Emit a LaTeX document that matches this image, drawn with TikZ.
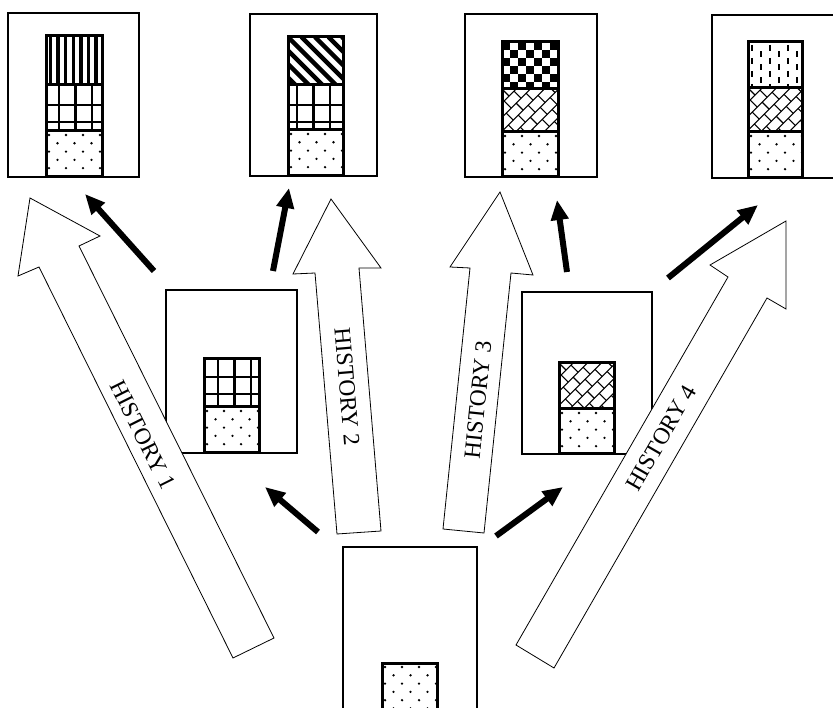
\documentclass[tikz,border=0pt]{standalone}
\usepackage{fontspec}
\setmainfont{Liberation Serif}
\usetikzlibrary{arrows.meta}

% Fills for the layer cells; arguments are the corners x1,y1,x2,y2.
\newcommand\lyrDots[4]{%
  \begin{scope}
    \clip (#1,#2) rectangle (#3,#4);
    \foreach \r in {0,...,7}{\foreach \c in {0,...,4}{%
      \fill ({#1+3+17*\c+8.5*mod(\r,2)},{#2+4+8.3*\r}) circle[radius=1.3pt];}}
  \end{scope}}
% grid, with offsets of the first vertical and horizontal line
\newcommand\lyrGrid[6]{%
  \begin{scope}
    \clip (#1,#2) rectangle (#3,#4);
    \foreach \i in {0,...,3}{%
      \draw[line width=2.3pt] ({#1+#5+16.5*\i},#2) -- ({#1+#5+16.5*\i},#4);
      \draw[line width=2.3pt] (#1,{#2+#6+17*\i}) -- (#3,{#2+#6+17*\i});}
  \end{scope}}
\newcommand\lyrBars[4]{%
  \begin{scope}
    \clip (#1,#2) rectangle (#3,#4);
    \foreach \i in {0,...,7}
      \draw[line width=3.5pt] ({#1+4.5+7.6*\i},#2) -- ({#1+4.5+7.6*\i},#4);
  \end{scope}}
\newcommand\lyrSlant[4]{%
  \begin{scope}
    \clip (#1,#2) rectangle (#3,#4);
    \foreach \i in {-5,...,5}
      \draw[line width=4.5pt] ({#1+13.5*\i},#2) -- ({#1+13.5*\i+60},{#2+60});
  \end{scope}}
\newcommand\lyrChecks[4]{%
  \begin{scope}
    \clip (#1,#2) rectangle (#3,#4);
    \foreach \r in {0,...,6}{\foreach \c in {0,...,7}{%
      \pgfmathtruncatemacro\odd{mod(\r+\c,2)}%
      \ifnum\odd=0 \fill ({#1+8*\c},{#2+8*\r}) rectangle ++(8,8);\fi}}
  \end{scope}}
\newcommand\lyrBricks[4]{%
  \begin{scope}
    \clip (#1,#2) rectangle (#3,#4);
    \begin{scope}[shift={(#1,#2)}, rotate=45, line width=1.1pt]
      \foreach \k in {0,...,8}{%
        \draw (-45,{10*\k}) -- (50,{10*\k});
        \foreach \j in {-4,...,4}
          \draw ({14*\j+7*mod(\k,2)},{10*\k}) -- ++(0,10);}
    \end{scope}
  \end{scope}}
\newcommand\lyrDashes[4]{%
  \begin{scope}
    \clip (#1,#2) rectangle (#3,#4);
    \foreach \c in {0,...,6}{\foreach \r in {0,...,4}{%
      \draw[line width=2.2pt] ({#1+4+9*\c},{#2+3+13*\r+6.5*mod(\c,2)}) -- ++(0,6);}}
  \end{scope}}

\begin{document}
\begin{tikzpicture}[x=1pt,y=-1pt,
  frame/.style={draw, line width=2pt, fill=white, inner sep=0pt, outer sep=0pt},
  cell/.style={draw, line width=3pt},
  hollow/.style={draw, line width=0.8pt, fill=white, line join=miter},
  move/.style={line width=6pt, -{Triangle[length=20pt,width=17pt]}},
  histlabel/.style={font=\fontsize{23.5}{24}\selectfont, inner sep=0pt}
]
\useasboundingbox (0,0) rectangle (833,708);
\clip (0,0) rectangle (833,708);

% outer frames
\node[frame, minimum width=131pt, minimum height=164pt] (top1) at (73.5,95) {};
\node[frame, minimum width=127pt, minimum height=162pt] (top2) at (313.5,95) {};
\node[frame, minimum width=132pt, minimum height=163pt] (top3) at (531,95.5) {};
\node[frame, minimum width=131pt, minimum height=163pt] (top4) at (777.5,96.5) {};
\node[frame, minimum width=131pt, minimum height=163pt] (mid1) at (231.5,371.5) {};
\node[frame, minimum width=130pt, minimum height=162pt] (mid2) at (587,373) {};
\node[frame, minimum width=134pt, minimum height=164pt] (base) at (410,629) {};

% layer stacks
\lyrBars{46}{36}{102}{85}
\lyrGrid{46}{85}{102}{131}{13}{20}
\lyrDots{46}{131}{102}{177}
\draw[cell] (46,36) rectangle (102,85) (46,85) rectangle (102,131) (46,131) rectangle (102,177);

\lyrSlant{288}{37}{343}{85}
\lyrGrid{288}{85}{343}{130}{9}{20}
\lyrDots{288}{130}{343}{176}
\draw[cell] (288,37) rectangle (343,85) (288,85) rectangle (343,130) (288,130) rectangle (343,176);

\lyrChecks{502}{42}{558}{89}
\lyrBricks{502}{89}{558}{132}
\lyrDots{502}{132}{558}{177}
\draw[cell] (502,42) rectangle (558,89) (502,89) rectangle (558,132) (502,132) rectangle (558,177);

\lyrDashes{748}{42}{802}{88}
\lyrBricks{748}{88}{802}{132}
\lyrDots{748}{132}{802}{178}
\draw[cell] (748,42) rectangle (802,88) (748,88) rectangle (802,132) (748,132) rectangle (802,178);

\lyrGrid{204}{359}{259}{407}{14}{18}
\lyrDots{204}{407}{259}{453}
\draw[cell] (204,359) rectangle (259,407) (204,407) rectangle (259,453);

\lyrBricks{559}{363}{614}{409}
\lyrDots{559}{409}{614}{454}
\draw[cell] (559,363) rectangle (614,409) (559,409) rectangle (614,454);

\lyrDots{382}{663}{437}{720}
\draw[cell] (382,663) rectangle (437,720);

% broad hollow arrows of the four histories
\draw[hollow] (30,198) -- (100,236) -- (79,246) -- (274,638) -- (233,658) -- (39,267) -- (18,276) -- cycle;
\draw[hollow] (331,199) -- (381,268) -- (359,268) -- (381,531) -- (337,534) -- (315,273) -- (293,274) -- cycle;
\draw[hollow] (500,192) -- (533,275) -- (511,273) -- (484,533) -- (443,529) -- (470,268) -- (450,267) -- cycle;
\draw[hollow] (786,221) -- (786,309) -- (767,298) -- (554,668) -- (516,645) -- (728,277) -- (710,265) -- cycle;

\node[histlabel, rotate=-63.5] (hist1) at (143,435) {HISTORY 1};
\node[histlabel, rotate=-85.2] (hist2) at (347,387) {HISTORY 2};
\node[histlabel, rotate=84.1] (hist3) at (478,400) {HISTORY 3};
\node[histlabel, rotate=60] (hist4) at (661,438) {HISTORY 4};

% transitions between states
\coordinate (m1a) at (154,271); \coordinate (t1in) at (85,194);
\coordinate (m1b) at (273,271); \coordinate (t2in) at (289,188);
\coordinate (b1) at (318,532);  \coordinate (m1in) at (265,487);
\coordinate (m2a) at (567,272); \coordinate (t3in) at (557,200);
\coordinate (b2) at (496,536);  \coordinate (m2in) at (563,487);
\coordinate (m2b) at (668,278); \coordinate (t4in) at (758,205);
\draw[move] (m1a) -- (t1in);
\draw[move] (m1b) -- (t2in);
\draw[move] (b1) -- (m1in);
\draw[move] (m2a) -- (t3in);
\draw[move] (b2) -- (m2in);
\draw[move] (m2b) -- (t4in);
\end{tikzpicture}
\end{document}
